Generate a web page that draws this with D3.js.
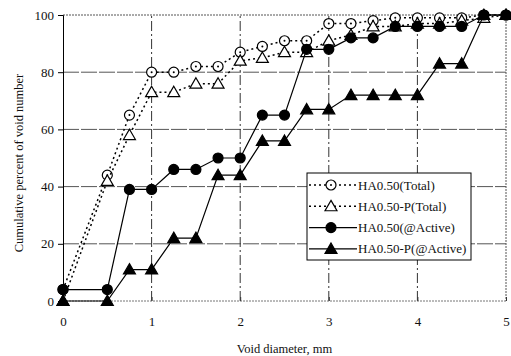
<!DOCTYPE html>
<html lang="en">
 <head>
 <meta http-equiv="Content-Type" content="text/html; charset=UTF-8">
  <title>Cumulative void number</title>
  <script type="text/javascript" src="https://unpkg.com/d3@7/dist/d3.min.js"></script>
  <style>
    body { margin: 0; background: #fff; }
    text { font-family: "Liberation Serif", "Times New Roman", serif; fill: #111; }
  </style>
 </head>
 <body>
  <script type="text/javascript">

    // void diameter, mm
    var diameters = [0, 0.5, 0.75, 1, 1.25, 1.5, 1.75, 2, 2.25, 2.5, 2.75, 3, 3.25, 3.5, 3.75, 4, 4.25, 4.5, 4.75, 5];

    var ha050Total   = [4, 44, 65, 80, 80, 82, 82, 87, 89, 91, 91, 97, 97, 98, 99, 99, 99, 99, 100, 100];
    var ha050PTotal  = [0, 42, 58, 73, 73, 76, 76, 84, 85, 87, 87, 91, 93, 96, 96, 97, 97, 98, 99, 100];
    var ha050Active  = [4, 4, 39, 39, 46, 46, 50, 50, 65, 65, 88, 88, 92, 92, 96, 96, 96, 96, 100, 100];
    var ha050PActive = [0, 0, 11, 11, 22, 22, 44, 44, 56, 56, 67, 67, 72, 72, 72, 72, 83, 83, 100, 100];

    var seriesNames = ["HA0.50(Total)", "HA0.50-P(Total)", "HA0.50(@Active)", "HA0.50-P(@Active)"];
    var xTicks = [0, 1, 2, 3, 4, 5];
    var yTicks = [0, 20, 40, 60, 80, 100];

    var W = 511, H = 356;
    var margin = { left: 63, right: 5, top: 15, bottom: 55 };

    var svg = d3.select("body").append("svg")
                .attr("width", W)
                .attr("height", H);

    var x = d3.scaleLinear().domain([0, 5]).range([margin.left, W - margin.right]);
    var y = d3.scaleLinear().domain([0, 100]).range([H - margin.bottom, margin.top]);

    // grid
    var grid = svg.append("g");
    grid.selectAll("line.h")
        .data(yTicks.filter(function (d) { return d > 0 && d < 100; }))
        .enter().append("line")
        .attr("x1", x(0)).attr("x2", x(5))
        .attr("y1", function (d) { return y(d); })
        .attr("y2", function (d) { return y(d); })
        .style("stroke", "#555")
        .style("stroke-width", 1)
        .style("stroke-dasharray", "16,2");
    grid.selectAll("line.v")
        .data(xTicks.filter(function (d) { return d > 0 && d < 5; }))
        .enter().append("line")
        .attr("y1", y(0)).attr("y2", y(100))
        .attr("x1", function (d) { return x(d); })
        .attr("x2", function (d) { return x(d); })
        .style("stroke", "#333")
        .style("stroke-width", 1)
        .style("stroke-dasharray", "10,3,2,3");

    // frame: dotted top, right, bottom; solid left
    svg.append("line").attr("x1", x(0)).attr("x2", x(5)).attr("y1", y(100)).attr("y2", y(100))
       .style("stroke", "#555").style("stroke-dasharray", "2,1");
    svg.append("line").attr("x1", x(5)).attr("x2", x(5)).attr("y1", y(100)).attr("y2", y(0))
       .style("stroke", "#555").style("stroke-dasharray", "2,1");
    svg.append("line").attr("x1", x(0)).attr("x2", x(5)).attr("y1", y(0)).attr("y2", y(0))
       .style("stroke", "#777").style("stroke-dasharray", "2,1");

    // axes
    var yAxis = svg.append("g")
        .attr("transform", "translate(" + x(0) + ",0)")
        .call(d3.axisLeft(y).tickValues(yTicks).tickFormat(d3.format("d")).tickSize(5).tickPadding(4));
    yAxis.select(".domain").style("stroke", "#000");
    yAxis.selectAll("text").style("font-size", "13px");

    var xAxis = svg.append("g")
        .attr("transform", "translate(0," + y(0) + ")")
        .call(d3.axisBottom(x).tickValues(xTicks).tickFormat(d3.format("d")).tickSize(-4).tickPadding(16));
    xAxis.select(".domain").remove();
    xAxis.selectAll("line").style("stroke", "#333");
    xAxis.selectAll("text").style("font-size", "13px");

    svg.append("text")
       .attr("transform", "translate(23," + ((y(0) + y(100)) / 2 + 5) + ") rotate(-90)")
       .attr("text-anchor", "middle")
       .style("font-size", "12.5px")
       .text("Cumulative percent of void number");

    svg.append("text")
       .attr("x", (x(0) + x(5)) / 2)
       .attr("y", 353)
       .attr("text-anchor", "middle")
       .style("font-size", "12.5px")
       .text("Void diameter, mm");

    var series = [
      { name: seriesNames[0], values: ha050Total,   dash: "2,3", shape: "circle",   filled: false },
      { name: seriesNames[1], values: ha050PTotal,  dash: "2,3", shape: "triangle", filled: false },
      { name: seriesNames[2], values: ha050Active,  dash: null,  shape: "circle",   filled: true },
      { name: seriesNames[3], values: ha050PActive, dash: null,  shape: "triangle", filled: true }
    ];

    var line = d3.line()
                 .x(function (d) { return x(d[0]); })
                 .y(function (d) { return y(d[1]); });

    var triPath = d3.symbol().type(d3.symbolTriangle).size(62)();

    function drawMarker(g, s, cx, cy) {
      var m;
      if (s.shape === "circle") {
        m = g.append("circle").attr("cx", cx).attr("cy", cy).attr("r", 5);
      } else {
        m = g.append("path").attr("d", triPath)
             .attr("transform", "translate(" + cx + "," + (cy + 1) + ")");
      }
      m.style("stroke", "#000").style("stroke-width", 1.2)
       .style("fill", s.filled ? "#000" : "#fff");
      if (!s.filled && s.shape === "circle") {
        g.append("circle").attr("cx", cx).attr("cy", cy).attr("r", 1).style("fill", "#000");
      }
    }

    series.forEach(function (s) {
      var pts = diameters.map(function (d, i) { return [d, s.values[i]]; });
      var g = svg.append("g");
      g.append("path")
       .datum(pts)
       .attr("d", line)
       .style("fill", "none")
       .style("stroke", "#000")
       .style("stroke-width", s.dash ? 1.5 : 1.2)
       .style("stroke-dasharray", s.dash);
      pts.forEach(function (p) { drawMarker(g, s, x(p[0]), y(p[1])); });
    });

    // legend
    var lg = svg.append("g").attr("transform", "translate(307,173)");
    lg.append("rect")
      .attr("width", 164).attr("height", 87)
      .style("fill", "#fff").style("stroke", "#000").style("stroke-width", 1);
    series.forEach(function (s, i) {
      var yy = 12 + i * 21.3;
      lg.append("line")
        .attr("x1", 2).attr("x2", 50).attr("y1", yy).attr("y2", yy)
        .style("stroke", "#000")
        .style("stroke-width", s.dash ? 1.5 : 1.2)
        .style("stroke-dasharray", s.dash);
      drawMarker(lg, s, 24, yy);
      lg.append("text")
        .attr("x", 51).attr("y", yy + 4.5)
        .style("font-size", "13px")
        .text(s.name);
    });

  </script>
 </body>
</html>
